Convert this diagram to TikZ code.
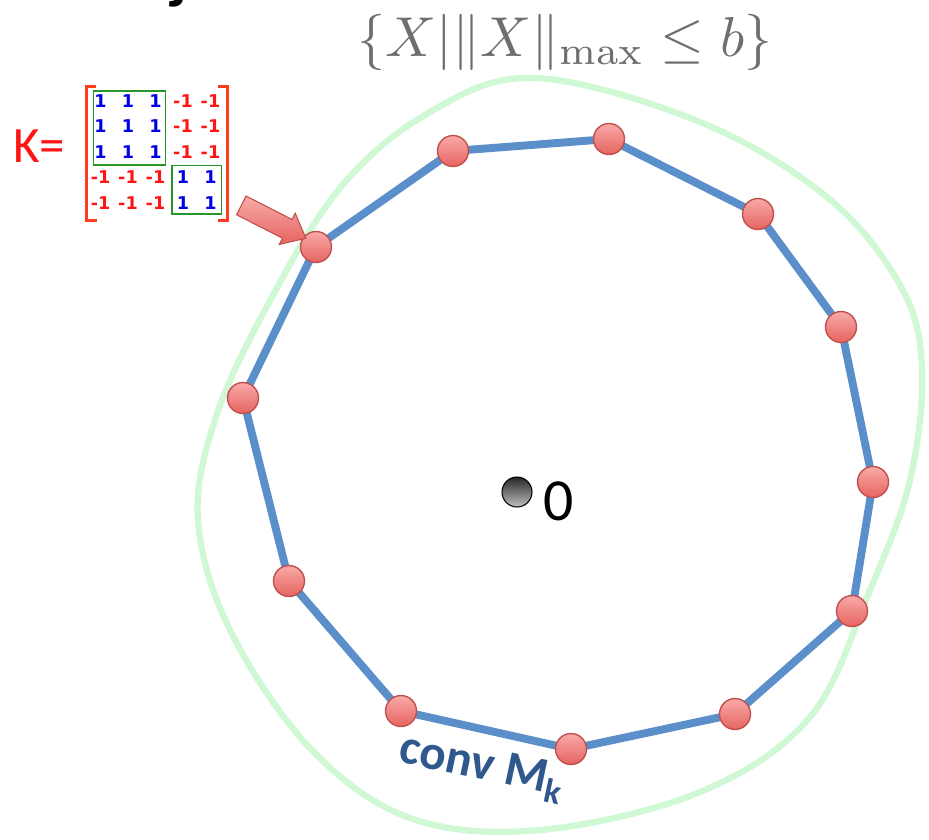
\documentclass[tikz,border=0pt]{standalone}
\usepackage{fontspec}
\setsansfont{Carlito}
\newfontfamily\matfont{DejaVu Sans}
\usepackage{tikz}
\usetikzlibrary{positioning, shapes.arrows, matrix, backgrounds, calc}
\definecolor{hullblue}{RGB}{91, 143, 201}
\definecolor{rimgreen}{RGB}{208, 248, 212}
\definecolor{dotred}{RGB}{230, 100, 96}
\definecolor{dotpink}{RGB}{248, 170, 168}
\definecolor{dotedge}{RGB}{192, 80, 77}
\definecolor{labelblue}{RGB}{47, 88, 140}
\definecolor{kred}{RGB}{255, 20, 20}
\definecolor{bracketred}{RGB}{255, 60, 30}
\definecolor{entryblue}{RGB}{0, 0, 230}
\definecolor{boxgreen}{RGB}{40, 150, 40}
\definecolor{setgray}{RGB}{110, 110, 110}

\begin{document}
\begin{tikzpicture}[x=0.02cm, y=-0.02cm]
    % Styles
    \tikzstyle{vertex} = [circle, draw=dotedge, line width=0.8pt, top color=dotpink, bottom color=dotred, minimum size=0.62cm, inner sep=0]
    \tikzstyle{hull} = [hullblue, line width=4.5pt, line join=round]
    \tikzstyle{rim} = [rimgreen, line width=3.6pt]
    \tikzstyle{entry} = [font=\matfont\bfseries\fontsize{10}{10}\selectfont, minimum width=0.55cm, minimum height=0.51cm, inner sep=0]
    \tikzstyle{one} = [text=entryblue]
    \tikzstyle{neg} = [text=kred]
    \tikzstyle{blockbox} = [boxgreen, line width=0.8pt]
    \tikzstyle{bracket} = [bracketred, line width=1.7pt]
    \tikzstyle{pointer} = [single arrow, draw=dotedge, line width=0.6pt, top color=dotpink, bottom color=dotred, minimum height=1.45cm, inner xsep=0, inner ysep=0.2cm, single arrow head extend=0.14cm, single arrow tip angle=80]

    \useasboundingbox (0,0) rectangle (929,839);

    % Nodes
    \node [anchor=base, font=\sffamily\bfseries\fontsize{36}{36}\selectfont] (titlecut) at (180,-4) {j};
    \node [text=setgray, scale=3.2] (maxset) at (565,42) {$\{X|\|X\|_{\max}\leq b\}$};

    \matrix (kmat) [matrix of nodes, nodes={entry}, inner sep=0, column sep=0pt, row sep=0pt] at (155.5,152) {
        |[one]| 1 & |[one]| 1 & |[one]| 1 & |[neg]| -1 & |[neg]| -1 \\
        |[one]| 1 & |[one]| 1 & |[one]| 1 & |[neg]| -1 & |[neg]| -1 \\
        |[one]| 1 & |[one]| 1 & |[one]| 1 & |[neg]| -1 & |[neg]| -1 \\
        |[neg]| -1 & |[neg]| -1 & |[neg]| -1 & |[one]| 1 & |[one]| 1 \\
        |[neg]| -1 & |[neg]| -1 & |[neg]| -1 & |[one]| 1 & |[one]| 1 \\
    };
    \node [text=kred, font=\sffamily\fontsize{29}{29}\selectfont, inner sep=0, left=0.42cm of kmat, yshift=0.12cm] (klabel) {K=};

    \foreach \name/\px/\py in {v1/316/247, v2/453/151, v3/609/139, v4/758/214, v5/841/327, v6/873/482,
                               v7/852/611, v8/735/714, v9/571/749, v10/401/711, v11/289/581, v12/243/398}
        \node [vertex] (\name) at (\px,\py) {};

    \node [circle, draw=black, line width=0.6pt, top color=black!85, bottom color=black!25, minimum size=0.6cm, inner sep=0] (origin) at (517,492) {};
    \node [font=\sffamily\fontsize{34}{34}\selectfont, inner sep=0, right=0.22cm of origin, yshift=-0.18cm] (zero) {0};

    \node [pointer, rotate=-27] (ptr) at (268,219) {};
    \node [text=labelblue, font=\sffamily\bfseries\fontsize{28}{28}\selectfont, rotate=-12] (convlabel) at (482,768) {conv M\textsubscript{k}};

    % Lines
    \draw [bracket] ($(kmat.north west)+(10,-1)$) -| ($(kmat.south west)+(0.5,4.5)$) -- ++(10,0);
    \draw [bracket] ($(kmat.north east)+(-7,-1)$) -| ($(kmat.south east)+(3,4.5)$) -- ++(-10,0);
    \draw [blockbox] ($(kmat-1-1.north west)+(7,3)$) rectangle ($(kmat-3-3.south east)+(-4,0)$);
    \draw [blockbox] ($(kmat-4-4.north west)+(3,1)$) rectangle ($(kmat-5-5.south east)+(-3,-2)$);

    \begin{scope}[on background layer]
        \draw [rim] plot [smooth cycle, tension=0.6] coordinates {(535,78) (700,122) (827,197) (900,285)
            (922,367) (910,480) (870,590) (810,717) (700,792) (540,830) (410,818) (310,748) (230,630)
            (198,520) (215,420) (265,310) (340,188) (430,112)};
        \draw [hull] (v1.center) -- (v2.center) -- (v3.center) -- (v4.center) -- (v5.center) -- (v6.center)
            -- (v7.center) -- (v8.center) -- (v9.center) -- (v10.center) -- (v11.center) -- (v12.center) -- cycle;
    \end{scope}
\end{tikzpicture}
\end{document}
